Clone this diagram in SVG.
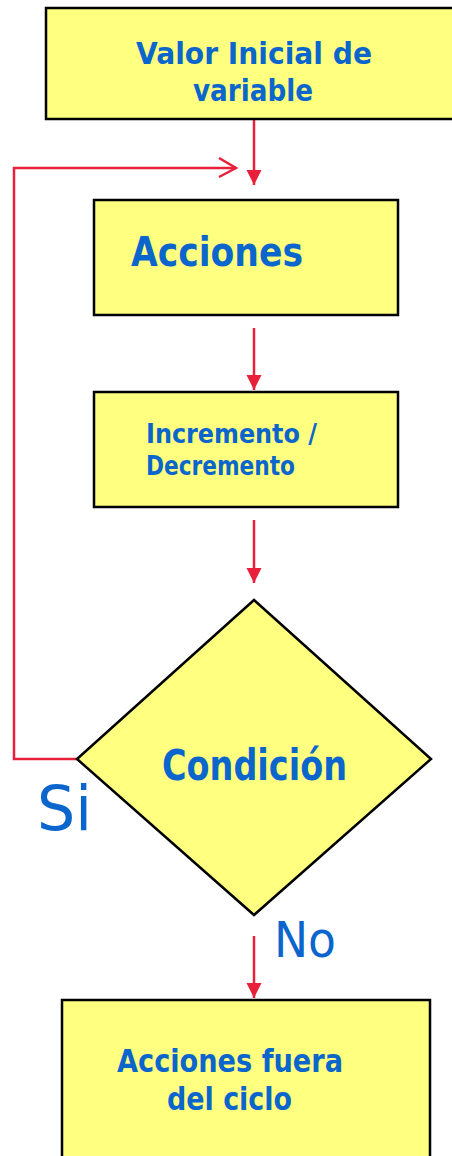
<svg xmlns="http://www.w3.org/2000/svg" width="452" height="1156" viewBox="0 0 452 1156">
<defs>
<style>
.box{fill:#FFFF80;stroke:#000;stroke-width:2.5}
.t{font-family:"DejaVu Sans","Liberation Sans",sans-serif;font-weight:bold;fill:#0A66CC}
.lbl{font-family:"DejaVu Sans","Liberation Sans",sans-serif;fill:#0A66CC}
.c{fill:none;stroke:#E8203A;stroke-width:2.5}
.h{fill:#E8203A}
</style>
<marker id="ah" markerWidth="16" markerHeight="16" refX="15" refY="8" orient="auto" markerUnits="userSpaceOnUse">
<path d="M0,0.5 L15,8 L0,15.5 Z" class="h"/>
</marker>
</defs>
<rect width="452" height="1156" fill="#fff"/>
<g id="connectors">
<line class="c" x1="254" y1="120" x2="254" y2="185" marker-end="url(#ah)"/>
<line class="c" x1="254" y1="328" x2="254" y2="390" marker-end="url(#ah)"/>
<line class="c" x1="254" y1="520" x2="254" y2="583" marker-end="url(#ah)"/>
<line class="c" x1="254" y1="936" x2="254" y2="998" marker-end="url(#ah)"/>
<polyline class="c" points="78,759 14,759 14,168 236,168"/>
<polyline class="c" points="219,158 236,168 219,177"/>
</g>
<g id="n-inicio">
<rect class="box" x="46" y="8" width="410" height="111"/>
<text class="t" x="136" y="64" font-size="30" textLength="236" lengthAdjust="spacingAndGlyphs">Valor Inicial de</text>
<text class="t" x="193" y="101" font-size="30" textLength="120" lengthAdjust="spacingAndGlyphs">variable</text>
</g>
<g id="n-acciones">
<rect class="box" x="94" y="200" width="304" height="115"/>
<text class="t" x="131" y="266" font-size="40" textLength="172" lengthAdjust="spacingAndGlyphs">Acciones</text>
</g>
<g id="n-incremento">
<rect class="box" x="94" y="392" width="304" height="115"/>
<text class="t" x="146" y="443" font-size="26" textLength="171" lengthAdjust="spacingAndGlyphs">Incremento /</text>
<text class="t" x="146" y="475" font-size="26" textLength="149" lengthAdjust="spacingAndGlyphs">Decremento</text>
</g>
<g id="n-condicion">
<polygon class="box" points="254,600 431,759 254,915 77,759"/>
<text class="t" x="162" y="780" font-size="42" textLength="185" lengthAdjust="spacingAndGlyphs">Condición</text>
</g>
<g id="labels">
<text class="lbl" x="37" y="830" font-size="62" textLength="55" lengthAdjust="spacingAndGlyphs">Si</text>
<text class="lbl" x="274" y="957" font-size="50" textLength="62" lengthAdjust="spacingAndGlyphs">No</text>
</g>
<g id="n-fuera">
<rect class="box" x="62" y="1000" width="368" height="170"/>
<text class="t" x="117" y="1072" font-size="32" textLength="226" lengthAdjust="spacingAndGlyphs">Acciones fuera</text>
<text class="t" x="167" y="1110" font-size="32" textLength="125" lengthAdjust="spacingAndGlyphs">del ciclo</text>
</g>
</svg>
